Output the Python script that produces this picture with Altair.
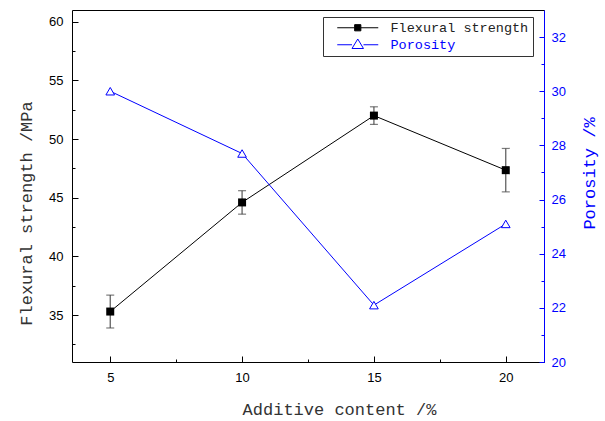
import altair as alt
import pandas as pd

# ---- data ----
content = [5, 10, 15, 20]
flexural = [35.3, 44.6, 52.0, 47.35]
flex_err = [1.4, 1.0, 0.75, 1.85]
porosity = [30.0, 27.7, 22.1, 25.1]

series_names = ["Flexural strength", "Porosity"]
series_colors = ["#000000", "#0000ff"]
series_fills = ["#000000", "#ffffff"]

x_major = [5, 10, 15, 20]
x_minor = [7.5, 12.5, 17.5]
yl_major = [35, 40, 45, 50, 55, 60]
yl_minor = [32.5, 37.5, 42.5, 47.5, 52.5, 57.5]
yr_major = [20, 22, 24, 26, 28, 30, 32]
yr_minor = [21, 23, 25, 27, 29, 31]

df = pd.DataFrame({
    "content": content,
    "flex": flexural,
    "lo": [f - e for f, e in zip(flexural, flex_err)],
    "hi": [f + e for f, e in zip(flexural, flex_err)],
    "por": porosity,
})
leg_df = pd.DataFrame({"series": series_names})

MONO = "Liberation Mono"
SANS = "Liberation Sans"
BLUE = "#0000ff"
TXT = "#333333"

xscale = alt.Scale(domain=[3.55, 21.45], nice=False, zero=False)
ylscale = alt.Scale(domain=[31, 61], nice=False, zero=False)
yrscale = alt.Scale(domain=[20, 33], nice=False, zero=False)


def minor_axis(values, orient, color, size):
    return alt.Axis(values=values, orient=orient, offset=-size, tickSize=size,
                    labels=False, domain=False, grid=False, title=None,
                    tickColor=color)


x_axis = alt.Axis(
    values=x_major, orient="bottom", offset=-6, tickSize=6, domain=False,
    labelPadding=9, labelFont=SANS, labelFontSize=13, labelColor="black",
    tickColor="black", grid=False, labelFlush=False,
    title="Additive content /%", titleFont=MONO, titleFontSize=17,
    titleFontWeight="normal", titleColor=TXT, titlePadding=17, titleX=267,
)
yl_axis = alt.Axis(
    values=yl_major, orient="left", offset=-6, tickSize=6, domain=False,
    labelPadding=9, labelFont=SANS, labelFontSize=13, labelColor="black",
    tickColor="black", grid=False, labelFlush=False,
    title="Flexural strength /MPa", titleFont=MONO, titleFontSize=17,
    titleFontWeight="normal", titleColor=TXT, titlePadding=13, titleY=203,
)
yr_axis = alt.Axis(
    values=yr_major, orient="right", offset=-5, tickSize=5, domain=False,
    labelPadding=7, labelFont=SANS, labelFontSize=13, labelColor=BLUE,
    tickColor=BLUE, grid=False, labelFlush=False,
    title="Porosity /%", titleFont=MONO, titleFontSize=17,
    titleFontWeight="normal", titleColor=BLUE, titlePadding=16,
    titleAngle=270, titleBaseline="top", titleY=163,
)
yr_domain_axis = alt.Axis(orient="right", ticks=False, labels=False, grid=False,
                          domain=True, domainColor=BLUE, domainWidth=1, title=None)

base = alt.Chart(df)
Xn = alt.X("content:Q", scale=xscale, axis=None)

l_line = base.mark_line(color="black", strokeWidth=1).encode(
    x=alt.X("content:Q", scale=xscale, axis=x_axis),
    y=alt.Y("flex:Q", scale=ylscale, axis=yl_axis))
l_rule = base.mark_rule(color="#555555", strokeWidth=1.2).encode(
    x=alt.X("content:Q", scale=xscale, axis=minor_axis(x_minor, "bottom", "black", 3)),
    y=alt.Y("lo:Q", scale=ylscale, axis=minor_axis(yl_minor, "left", "black", 3)),
    y2="hi:Q")
l_cap_lo = base.mark_tick(orient="horizontal", size=8, thickness=1.2, color="#444444").encode(
    x=Xn, y=alt.Y("lo:Q", scale=ylscale, axis=None))
l_cap_hi = base.mark_tick(orient="horizontal", size=8, thickness=1.2, color="#444444").encode(
    x=Xn, y=alt.Y("hi:Q", scale=ylscale, axis=None))
l_pts = base.mark_point(shape="square", filled=True, size=64, color="black", opacity=1).encode(
    x=Xn, y=alt.Y("flex:Q", scale=ylscale, axis=None))

r_line = base.mark_line(color=BLUE, strokeWidth=1).encode(
    x=Xn, y=alt.Y("por:Q", scale=yrscale, axis=yr_axis))
r_pts = base.mark_point(shape="triangle-up", filled=True, size=75, fill="white",
                        stroke=BLUE, strokeWidth=1, opacity=1).encode(
    x=Xn, y=alt.Y("por:Q", scale=yrscale, axis=minor_axis(yr_minor, "right", BLUE, 3)))
r_dom = base.mark_point(opacity=0).encode(
    x=Xn, y=alt.Y("por:Q", scale=yrscale, axis=yr_domain_axis))

sq_path = "M-4.1,0H-0.62M0.62,0H4.1M-0.62,-0.62H0.62V0.62H-0.62Z"
tri_path = "M-4.1,0H-1.15M1.15,0H4.1M-1.15,0.75L0,-1.15L1.15,0.75Z"

legend = alt.Legend(
    title=None, orient="none", legendX=251, legendY=7, direction="vertical",
    symbolSize=100, symbolStrokeWidth=1, symbolOffset=24, labelOffset=26,
    labelFont=MONO, labelFontSize=13.5,
    labelColor={"expr": "datum.value === 'Porosity' ? '#0000ff' : '#222222'"},
    strokeColor="#333333", fillColor="white", padding=4, rowPadding=2,
)

leg_layer = alt.Chart(leg_df).mark_point(filled=True, opacity=1).encode(
    stroke=alt.Stroke("series:N", scale=alt.Scale(domain=series_names, range=series_colors), legend=legend),
    fill=alt.Fill("series:N", scale=alt.Scale(domain=series_names, range=series_fills), legend=legend),
    shape=alt.Shape("series:N", scale=alt.Scale(domain=series_names, range=[sq_path, tri_path]), legend=legend),
).transform_filter("false")

chart = alt.layer(
    l_line, l_rule, l_cap_lo, l_cap_hi, l_pts, r_line, r_pts, r_dom, leg_layer
).resolve_scale(y="independent").resolve_axis(x="independent", y="independent").properties(
    width=472, height=352,
    autosize=alt.AutoSizeParams(type="none"),
    padding={"left": 72, "top": 10, "right": 61, "bottom": 59},
    background="white",
).configure_view(stroke="black", strokeWidth=1)

chart.save("out.html", embed_options={"renderer": "svg", "actions": False})
